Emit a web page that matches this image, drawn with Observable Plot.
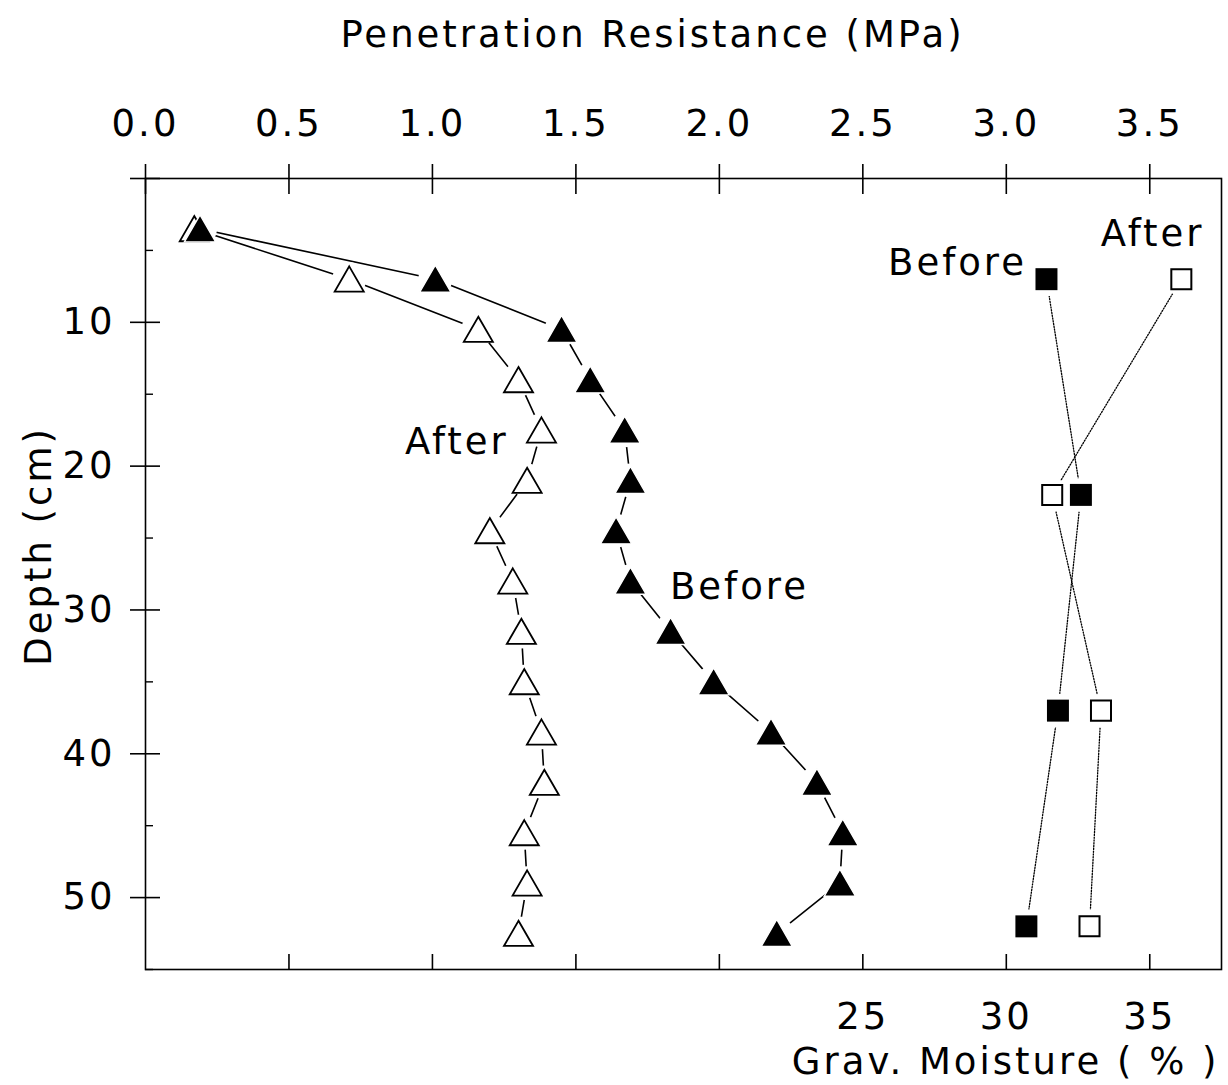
<!DOCTYPE html>
<html>
<head>
<meta charset="utf-8">
<script src="https://cdn.jsdelivr.net/npm/d3@7"></script>
<script src="https://cdn.jsdelivr.net/npm/@observablehq/plot@0.6"></script>
<style>
  html, body { margin: 0; padding: 0; background: #fff; }
  #chart svg { display: block; }
  #chart svg text { letter-spacing: 3px; }
</style>
</head>
<body>
<div id="chart"></div>
<script>
// Penetration resistance profile (triangles), sampled every 3.5 cm of depth
const triDepth = [3.5, 7, 10.5, 14, 17.5, 21, 24.5, 28, 31.5, 35, 38.5, 42, 45.5, 49, 52.5];
const resistBefore = [0.19, 1.01, 1.45, 1.55, 1.67, 1.69, 1.64, 1.69, 1.83, 1.98, 2.18, 2.34, 2.43, 2.42, 2.20];
const resistAfter  = [0.17, 0.71, 1.16, 1.30, 1.38, 1.33, 1.20, 1.28, 1.31, 1.32, 1.38, 1.39, 1.32, 1.33, 1.30];

// Gravimetric moisture profile (squares)
const sqDepth = [7, 22, 37, 52];
const moistBefore = [31.4, 32.6, 31.8, 30.7];
const moistAfter  = [36.1, 31.6, 33.3, 32.9];

// Axis ticks
const mpaTicks = [0, 0.5, 1.0, 1.5, 2.0, 2.5, 3.0, 3.5];
const depthMajor = [0, 10, 20, 30, 40, 50];
const depthLabeled = [10, 20, 30, 40, 50];
const depthMinor = [5, 15, 25, 35, 45, 55];
const moistTicks = [5, 10, 15, 20, 25, 30, 35];
const moistLabeled = [25, 30, 35];

// Series annotations
const seriesLabels = [
  {text: "After",  value: 1.085, unit: "MPa", depth: 18.3},
  {text: "Before", value: 2.07,  unit: "MPa", depth: 28.4},
  {text: "Before", value: 28.3,  unit: "%",   depth: 5.9},
  {text: "After",  value: 35.1,  unit: "%",   depth: 3.9}
];

// Moisture shares the horizontal frame with resistance: 10 % spans the width of 1 MPa
const pctToX = (p) => p / 10;

const resist = triDepth.flatMap((depth, i) => [
  {depth, mpa: resistBefore[i], period: "Before"},
  {depth, mpa: resistAfter[i], period: "After"}
]);
const moist = sqDepth.flatMap((depth, i) => [
  {depth, pct: moistBefore[i], period: "Before"},
  {depth, pct: moistAfter[i], period: "After"}
]);
const labelX = (d) => d.unit === "%" ? pctToX(d.value) : d.value;

const FONT = "'DejaVu Sans', sans-serif";
const FS = 37;

const chart = Plot.plot({
  width: 1228,
  height: 1085,
  marginTop: 178,
  marginBottom: 116,
  marginLeft: 145,
  marginRight: 7,
  style: {fontFamily: FONT, fontSize: FS + "px", color: "black", background: "white", overflow: "visible"},
  x: {domain: [0, 3.75]},
  y: {domain: [0, 55], reverse: true},
  marks: [
    Plot.frame({stroke: "black", strokeWidth: 1.6}),

    // top axis: ticks crossing the frame, then labels
    Plot.axisX({anchor: "top", ticks: mpaTicks, tickSize: 30, dy: 15, tickFormat: () => "", label: null, strokeWidth: 1.6}),
    Plot.axisX({anchor: "top", ticks: mpaTicks, tickSize: 0, tickPadding: 43, tickFormat: d3.format(".1f"), label: null, fontSize: FS}),

    // left axis: crossing major ticks, short inner minor ticks, labels
    Plot.axisY({anchor: "left", ticks: depthMajor, tickSize: 30, dx: 15, tickFormat: () => "", label: null, strokeWidth: 1.6}),
    Plot.axisY({anchor: "left", ticks: depthMinor, tickSize: 8, dx: 8, tickFormat: () => "", label: null, strokeWidth: 1.4}),
    Plot.axisY({anchor: "left", ticks: depthLabeled, tickSize: 0, tickPadding: 30, tickFormat: d3.format("d"), label: null, fontSize: FS}),

    // bottom axis (moisture): inward ticks, sparse labels
    Plot.axisX({anchor: "bottom", ticks: moistTicks.map(pctToX), tickSize: 15, dy: -15, tickFormat: () => "", label: null, strokeWidth: 1.6}),
    Plot.axisX({anchor: "bottom", ticks: moistLabeled.map(pctToX), tickSize: 0, tickPadding: 33,
      tickFormat: (v) => String(Math.round(v * 10)), label: null, fontSize: FS}),

    // axis titles
    Plot.text(["Penetration Resistance (MPa)"], {frameAnchor: "top", textAnchor: "middle", dx: -31, dy: -143, lineAnchor: "middle", fontSize: FS}),
    Plot.text(["Depth (cm)"], {frameAnchor: "left", textAnchor: "middle", dx: -106, dy: -28, rotate: -90, lineAnchor: "middle", fontSize: FS}),
    Plot.text(["Grav. Moisture ( % )"], {frameAnchor: "bottom-right", textAnchor: "end", dx: -2, dy: 93, lineAnchor: "middle", fontSize: FS}),

    // connecting lines
    Plot.line(resist, {x: "mpa", y: "depth", z: "period", stroke: "black", strokeWidth: 1.6}),
    Plot.line(moist, {x: (d) => pctToX(d.pct), y: "depth", z: "period", stroke: "black", strokeWidth: 1.3, strokeDasharray: "1.2,1.6"}),

    // white clearance around every marker so lines stop short of it
    Plot.dot(resist, {x: "mpa", y: "depth", r: 17, fill: "white", stroke: "none"}),
    Plot.dot(moist, {x: (d) => pctToX(d.pct), y: "depth", r: 17, fill: "white", stroke: "none"}),

    // markers
    Plot.dot(resist.filter((d) => d.period === "After"), {x: "mpa", y: "depth", symbol: "triangle", r: 10.8, dy: 4,
      fill: "white", stroke: "black", strokeWidth: 1.8}),
    Plot.dot(resist.filter((d) => d.period === "Before"), {x: "mpa", y: "depth", symbol: "triangle", r: 11.6, dy: 4,
      fill: "black", stroke: "white", strokeWidth: 1.4}),
    Plot.dot(moist.filter((d) => d.period === "Before"), {x: (d) => pctToX(d.pct), y: "depth", symbol: "square", r: 12.4,
      fill: "black", stroke: "none"}),
    Plot.dot(moist.filter((d) => d.period === "After"), {x: (d) => pctToX(d.pct), y: "depth", symbol: "square", r: 11.3,
      fill: "white", stroke: "black", strokeWidth: 2}),

    // series labels
    Plot.text(seriesLabels, {x: labelX, y: "depth", text: "text", fontSize: FS, lineAnchor: "middle"})
  ]
});

document.getElementById("chart").appendChild(chart);
</script>
</body>
</html>
